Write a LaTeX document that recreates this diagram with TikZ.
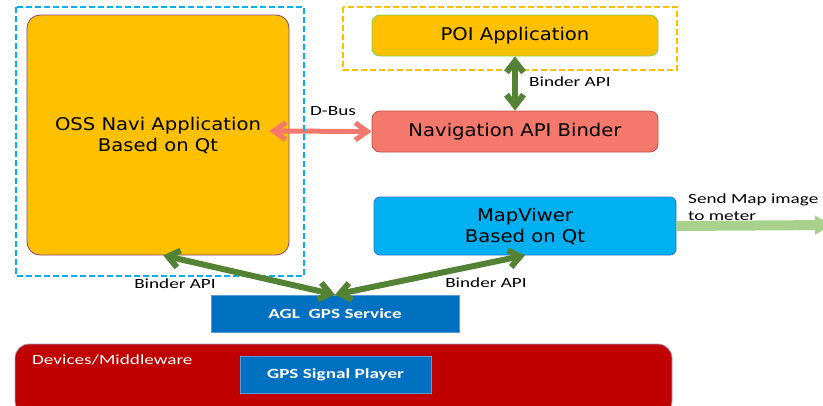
\documentclass[tikz,border=0pt]{standalone}
\usepackage{fontspec}
\setmainfont{DejaVu Sans}[FakeStretch=1.12]
\newfontfamily\lblfont{Carlito}[FakeStretch=1.37]
\usepackage{xcolor}
\usepackage{tikz}
\usetikzlibrary{positioning, arrows.meta, calc}

\definecolor{appyellow}{HTML}{FFC000}
\definecolor{frameblue}{HTML}{00B0F0}
\definecolor{navred}{HTML}{F4786B}
\definecolor{navborder}{HTML}{C0504D}
\definecolor{mapblue}{HTML}{00B0F0}
\definecolor{mapborder}{HTML}{2F6FD0}
\definecolor{gpsblue}{HTML}{0070C0}
\definecolor{gpsborder}{HTML}{5B9BD5}
\definecolor{devred}{HTML}{C00000}
\definecolor{binder}{HTML}{548235}
\definecolor{sendgreen}{HTML}{A9D18E}

\begin{document}
\begin{tikzpicture}[x=1pt, y=-1pt,
    box/.style={rectangle, inner sep=0pt, align=center, line width=0.8pt,
      font=\fontsize{17.5}{21}\selectfont},
    svcbox/.style={rectangle, inner sep=0pt, fill=gpsblue, draw=gpsborder, line width=0.6pt,
      text=white, font=\lblfont\bfseries\fontsize{14}{16}\selectfont},
    lbl/.style={inner sep=0pt, font=\lblfont\fontsize{14}{17}\selectfont},
    binderarrow/.style={draw=binder, line width=6pt,
      {Straight Barb[length=11pt, width=17pt]}-{Straight Barb[length=11pt, width=17pt]}},
    dbusarrow/.style={draw=navred, line width=5pt,
      {Straight Barb[length=12pt, width=17pt]}-{Straight Barb[length=12pt, width=17pt]}}
  ]
  \clip (0,0) rectangle (823,405);

  % POI side
  \draw[appyellow, line width=2pt, dash pattern=on 6pt off 3pt] (343,7) rectangle (677,70);
  \node[box, fill=appyellow, draw=green!50!olive!70, rounded corners=8pt,
    minimum width=286pt, minimum height=41pt] (poi) at (515,35.5) {POI Application};
  \node[box, fill=navred, draw=navborder, rounded corners=8pt,
    minimum width=286pt, minimum height=41pt] (nav) at (515,131.5) {Navigation API Binder};
  \node[box, fill=mapblue, draw=mapborder, rounded corners=6pt,
    minimum width=302pt, minimum height=58pt] (map) at (525,226) {MapViwer\\Based on Qt};

  % OSS Navi side
  \node[box, fill=appyellow, draw=violet!45!gray, rounded corners=13pt,
    minimum width=262pt, minimum height=240pt] (oss) at (158,135) {OSS Navi Application\\Based on Qt};
  \draw[dbusarrow] ([shift={(-20pt,4pt)}]oss.east) -- (nav.west);
  \draw[frameblue, line width=2pt, dash pattern=on 6pt off 3pt] (16,7) rectangle (304,276);

  % services
  \node[svcbox, minimum width=248pt, minimum height=37pt] (agl) at (335,313.5) {AGL~~GPS Service};
  \node[rectangle, fill=devred, draw=blue!25!gray!60, line width=0.8pt, rounded corners=14pt,
    minimum width=657pt, minimum height=71pt] (dev) at (343.5,379.5) {};
  \node[lbl, text=white, anchor=west] (devlbl) at (32,360) {Devices/Middleware};
  \node[svcbox, minimum width=191pt, minimum height=37pt] (gps) at (335.5,374.5) {GPS Signal Player};

  % connectors
  \draw[binderarrow] (poi.south) -- (nav.north);
  \draw[binderarrow] ($(oss.south west)!0.52!(oss.south east)$) -- (agl.north);
  \draw[binderarrow] (map.south) -- (agl.north);
  \coordinate (meter) at (832,225);
  \draw[sendgreen, line width=10pt, -{Triangle[length=17pt, width=19pt, line width=0.1pt]}] (map.east) -- (meter);

  \node[lbl] (dbuslbl) at (333,111) {D-Bus};
  \node[lbl, anchor=west] (poilbl) at (529,82) {Binder API};
  \node[lbl] (osslbl) at (175,284) {Binder API};
  \node[lbl] (maplbl) at (486,283) {Binder API};
  \node[lbl, anchor=north west, align=left] (sendlbl) at (688,194) {Send Map image\\to meter};
\end{tikzpicture}
\end{document}
